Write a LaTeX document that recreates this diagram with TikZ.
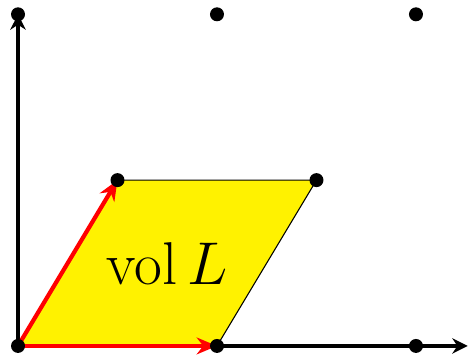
\documentclass[tikz,border=0pt]{standalone}
\usepackage{tikz}
\usepackage{amsmath}
\usetikzlibrary{arrows.meta,positioning}
\definecolor{cellfill}{HTML}{FFF200}
\definecolor{basisred}{HTML}{FF0000}
\tikzset{
  latpt/.style={circle, fill=black, inner sep=0pt, minimum size=4pt},
  axisline/.style={line width=1.1pt, -{Stealth[length=4.4pt, width=4.4pt]}},
  basisvec/.style={basisred, line width=1.2pt, -{Stealth[length=5.8pt, width=4.8pt]}}
}

\begin{document}
\begin{tikzpicture}[x=1cm, y=1cm]
  \useasboundingbox (-0.181,-0.1) rectangle (4.543,3.477);
  % lattice points
  \coordinate (o) at (0,0);
  \coordinate (b1) at (2,0);
  \coordinate (b2) at (1,5/3);
  \coordinate (b12) at (3,5/3);
  \coordinate (xend) at (4.52,0);
  \coordinate (yend) at (0,10/3);
  % fundamental cell
  \fill[cellfill] (o) -- (b1) -- (b12) -- (b2) -- cycle;
  \draw[line width=0.3pt] (b1) -- (b12) -- (b2);
  \node (vol) at (1.5,0.833) {\fontsize{16.5}{20}\selectfont $\operatorname{vol} L$};
  % axes
  \draw[axisline] (o) -- (xend);
  \draw[axisline] (o) -- (yend);
  % basis vectors
  \draw[basisvec] (o) -- (b1);
  \draw[basisvec] (o) -- (b2);
  % dots
  \node[latpt] (p00) at (o) {};
  \node[latpt] (p10) at (b1) {};
  \node[latpt] (p20) at (4,0) {};
  \node[latpt] (p01) at (b2) {};
  \node[latpt] (p11) at (b12) {};
  \node[latpt] (p02) at (yend) {};
  \node[latpt] (p12) at (2,10/3) {};
  \node[latpt] (p22) at (4,10/3) {};
\end{tikzpicture}
\end{document}
